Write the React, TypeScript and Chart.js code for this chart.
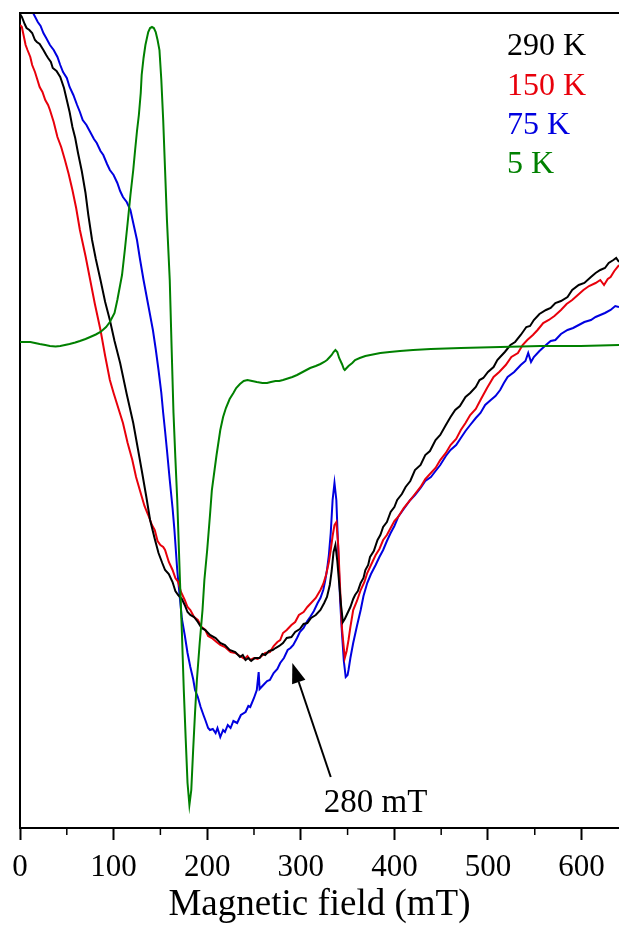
import React, { useEffect, useRef } from "react";
import { Chart, registerables } from "chart.js";

Chart.register(...registerables);

// ---------- data (field in mT, intensity in arbitrary units) ----------
const seriesLabels = ["290 K", "150 K", "75 K", "5 K"];
const seriesColors = ["#000000", "#e8000b", "#0000e0", "#008000"];
const xTicks = [0, 100, 200, 300, 400, 500, 600];
const minorTicks = [50, 150, 250, 350, 450, 550];
const annotationText = "280 mT";

const k290: [number, number][] = [
  [0,32.9],[2,32.6],[5,31.9],[7,31.5],[10,31.3],[13,31.0],[16,30.3],[18,30.1],[21,29.9],[25,29.3],[28,28.8],[30,28.5],[33,28.1],[35,27.5],[39,27.2],[43,26.6],[47,25.5],[50,24.3],[53,23.1],[56,21.6],[59,20.5],[62,19.0],[66,17.2],[70,15.0],[73,12.8],[77,10.3],[81,8.4],[86,6.3],[91,4.1],[96,2.3],[101,0.2],[107,-2.0],[114,-5.1],[121,-8.0],[126,-10.6],[130,-12.7],[135,-15.4],[139,-17.7],[144,-19.6],[148,-21.0],[152,-22.0],[155,-22.7],[159,-23.1],[163,-23.9],[166,-24.8],[169,-25.2],[173,-25.6],[176,-26.2],[179,-26.9],[182,-27.2],[186,-27.4],[190,-27.9],[194,-28.5],[198,-28.7],[203,-29.2],[209,-29.5],[214,-30.0],[219,-30.2],[224,-30.7],[230,-30.9],[235,-31.4],[238,-31.2],[241,-31.7],[244,-31.5],[247,-31.8],[251,-31.5],[256,-31.5],[259,-31.1],[262,-31.2],[266,-30.8],[270,-30.7],[273,-30.5],[277,-30.3],[281,-30.0],[285,-29.5],[290,-29.4],[294,-28.9],[299,-28.6],[303,-28.1],[307,-28.0],[311,-27.5],[316,-27.2],[321,-26.7],[325,-26.0],[328,-25.4],[331,-24.2],[333,-22.8],[335,-20.9],[337,-20.2],[339,-21.8],[341,-24.0],[343,-26.2],[345,-27.9],[347,-27.6],[349,-27.2],[353,-26.4],[356,-25.6],[358,-25.2],[361,-24.8],[364,-24.0],[367,-23.5],[369,-22.7],[372,-22.2],[374,-21.4],[378,-20.8],[382,-19.7],[385,-19.2],[388,-18.4],[392,-17.9],[396,-16.9],[400,-16.4],[403,-15.7],[408,-15.1],[412,-14.4],[417,-13.8],[422,-12.7],[428,-12.2],[433,-11.2],[438,-10.8],[444,-9.7],[449,-9.2],[455,-8.2],[460,-7.4],[465,-6.7],[470,-6.3],[476,-5.4],[481,-5.0],[487,-4.4],[491,-3.7],[495,-3.5],[500,-2.9],[506,-2.4],[510,-1.7],[513,-1.4],[518,-0.9],[524,-0.2],[529,0.1],[535,0.8],[541,1.6],[545,1.7],[549,2.3],[555,2.9],[562,3.3],[567,3.5],[572,4.0],[578,4.2],[585,4.6],[590,5.3],[597,5.8],[603,6.0],[610,6.6],[615,7.0],[620,7.3],[625,7.5],[629,8.0],[634,8.3],[637,8.5],[640,8.1]
];

const k150: [number, number][] = [
  [0,31.8],[2,31.6],[4,30.7],[6,29.8],[8,29.3],[11,28.6],[13,27.8],[16,27.1],[18,26.5],[21,25.6],[24,25.1],[27,24.3],[30,23.8],[32,23.3],[36,22.1],[40,20.6],[44,19.6],[48,18.3],[52,16.9],[56,15.3],[60,13.5],[64,11.3],[70,8.7],[75,6.3],[80,3.9],[86,1.3],[91,-1.3],[96,-3.7],[100,-5.0],[104,-6.2],[107,-7.1],[110,-8.0],[115,-10.0],[120,-11.7],[124,-13.4],[128,-14.7],[133,-16.3],[137,-17.2],[141,-18.2],[144,-18.7],[147,-19.8],[150,-20.2],[153,-20.4],[155,-20.7],[159,-21.9],[163,-22.7],[166,-23.5],[169,-23.9],[172,-24.9],[176,-25.7],[179,-26.4],[182,-26.7],[186,-27.4],[190,-27.7],[194,-28.4],[198,-28.7],[201,-29.3],[205,-29.5],[210,-29.9],[214,-30.2],[219,-30.4],[225,-30.9],[230,-31.0],[235,-31.3],[240,-31.6],[243,-31.3],[246,-31.7],[250,-31.5],[254,-31.6],[257,-31.4],[262,-31.0],[267,-30.9],[271,-30.3],[275,-29.9],[278,-29.7],[281,-29.0],[285,-28.7],[290,-28.2],[294,-27.9],[298,-27.2],[303,-26.9],[307,-26.4],[311,-26.0],[316,-25.5],[321,-24.7],[324,-24.1],[327,-23.2],[330,-21.9],[332,-20.7],[334,-19.3],[336,-18.2],[338,-17.9],[340,-20.2],[342,-24.5],[344,-28.5],[347,-31.5],[349,-30.8],[351,-29.7],[353,-28.4],[356,-26.7],[360,-25.8],[364,-24.7],[368,-23.9],[371,-23.0],[375,-22.2],[380,-21.2],[384,-20.6],[388,-19.7],[392,-19.2],[396,-18.5],[400,-17.8],[404,-17.4],[410,-16.5],[417,-15.7],[422,-15.1],[428,-14.4],[433,-13.6],[439,-13.0],[444,-12.5],[449,-11.7],[455,-11.0],[460,-10.2],[466,-9.6],[471,-8.7],[476,-8.0],[481,-7.2],[487,-6.6],[492,-5.7],[499,-4.5],[506,-3.4],[512,-2.9],[519,-2.2],[525,-1.4],[532,-1.0],[537,-0.2],[542,0.3],[548,0.8],[553,1.3],[559,2.0],[565,2.3],[571,2.7],[578,3.3],[584,3.9],[590,4.3],[596,4.8],[602,5.3],[608,5.7],[615,6.0],[620,6.3],[624,5.8],[628,6.4],[631,6.6],[635,7.2],[640,7.8]
];

const k75: [number, number][] = [
  [0,35.3],[7,34.2],[14,33.0],[19,32.1],[22,31.7],[25,31.0],[28,30.5],[32,29.8],[36,29.3],[40,28.6],[43,27.8],[46,27.1],[50,26.5],[53,25.6],[57,24.8],[61,23.8],[64,23.1],[67,22.3],[71,21.8],[75,21.1],[79,20.4],[82,20.0],[86,19.2],[89,18.8],[93,17.9],[96,17.3],[100,16.8],[104,16.0],[107,15.2],[110,14.6],[114,14.1],[118,13.3],[121,12.0],[125,10.3],[128,8.5],[132,6.3],[137,3.8],[142,1.3],[145,-0.6],[148,-2.7],[151,-5.0],[153,-7.0],[155,-8.8],[157,-10.7],[160,-13.7],[163,-16.5],[165,-18.7],[168,-22.7],[171,-25.7],[173,-27.6],[176,-29.2],[179,-31.0],[182,-32.4],[185,-33.6],[187,-34.7],[190,-35.4],[193,-36.4],[196,-37.2],[198,-37.7],[201,-38.5],[203,-38.7],[206,-38.6],[209,-39.0],[211,-38.5],[214,-39.4],[217,-38.7],[219,-38.9],[222,-38.2],[225,-38.5],[228,-37.8],[232,-38.0],[236,-37.2],[241,-36.9],[244,-36.3],[246,-36.4],[250,-35.5],[253,-34.7],[255,-32.9],[256,-34.6],[260,-34.2],[264,-33.8],[267,-33.7],[271,-33.0],[275,-32.6],[278,-32.0],[282,-31.5],[286,-30.7],[289,-30.5],[292,-30.2],[296,-29.5],[299,-28.9],[303,-28.5],[307,-27.8],[310,-27.4],[314,-26.8],[318,-26.0],[321,-25.5],[324,-24.7],[326,-23.8],[328,-22.7],[330,-21.2],[332,-19.0],[334,-15.7],[336,-14.0],[338,-15.7],[340,-20.7],[342,-25.7],[344,-29.0],[346,-31.8],[348,-33.4],[350,-33.2],[351,-32.7],[353,-31.5],[356,-30.0],[360,-28.3],[364,-26.7],[367,-25.3],[371,-24.0],[375,-23.1],[380,-22.2],[384,-21.4],[388,-20.7],[392,-19.8],[396,-19.0],[400,-18.3],[404,-17.4],[410,-16.6],[417,-15.7],[422,-15.2],[428,-14.5],[433,-13.8],[439,-13.4],[444,-12.8],[449,-12.2],[455,-11.3],[460,-10.7],[466,-10.2],[471,-9.5],[476,-8.8],[481,-8.2],[487,-7.5],[492,-7.0],[497,-6.2],[503,-5.7],[508,-5.3],[513,-4.7],[517,-4.0],[521,-3.4],[528,-2.9],[535,-2.2],[540,-1.8],[543,-1.0],[546,-1.9],[549,-1.4],[555,-0.8],[562,-0.2],[567,0.2],[572,0.3],[578,0.9],[585,1.3],[591,1.5],[597,1.8],[603,2.1],[610,2.3],[615,2.6],[620,2.8],[625,3.0],[631,3.3],[636,3.7],[640,3.6]
];

const k5: [number, number][] = [
  [0,0.1],[5,0.1],[11,0.1],[16,0.0],[21,-0.1],[27,-0.2],[32,-0.3],[38,-0.35],[43,-0.3],[48,-0.2],[53,-0.1],[59,0.05],[64,0.2],[70,0.4],[75,0.6],[81,0.85],[86,1.1],[92,1.6],[96,2.1],[101,3.0],[104,4.3],[107,5.8],[109,6.8],[112,9.3],[115,12.0],[118,14.8],[121,17.3],[123,19.3],[125,21.2],[127,22.8],[129,25.0],[130,26.8],[132,28.5],[134,29.8],[137,31.1],[139,31.5],[141,31.6],[143,31.5],[145,31.1],[147,30.3],[149,29.3],[151,26.3],[153,22.3],[155,17.3],[157,12.3],[160,6.3],[162,-0.5],[164,-7.0],[166,-11.5],[168,-15.7],[171,-24.0],[173,-29.0],[175,-34.7],[177,-39.5],[179,-44.0],[181,-46.2],[183,-44.7],[185,-40.7],[187,-37.0],[189,-33.7],[192,-30.0],[195,-26.7],[197,-23.7],[200,-20.7],[203,-17.2],[205,-14.7],[208,-12.6],[210,-11.2],[214,-8.7],[217,-7.4],[220,-6.5],[224,-5.6],[228,-5.0],[231,-4.5],[235,-4.1],[239,-3.8],[243,-3.7],[248,-3.8],[253,-3.9],[259,-4.0],[264,-4.0],[268,-3.9],[273,-3.8],[277,-3.8],[281,-3.7],[286,-3.55],[291,-3.4],[296,-3.2],[300,-3.0],[305,-2.75],[310,-2.5],[316,-2.3],[321,-2.1],[325,-1.9],[328,-1.7],[331,-1.4],[333,-1.2],[335,-0.9],[337,-0.7],[339,-0.9],[341,-1.5],[344,-2.1],[346,-2.6],[347,-2.7],[349,-2.5],[351,-2.3],[355,-2.0],[358,-1.7],[363,-1.5],[369,-1.3],[377,-1.15],[385,-1.0],[395,-0.9],[406,-0.8],[420,-0.7],[439,-0.6],[455,-0.55],[471,-0.5],[492,-0.45],[513,-0.4],[535,-0.35],[556,-0.3],[578,-0.3],[599,-0.3],[620,-0.25],[640,-0.2]
];

const seriesData = [k290, k150, k75, k5];

const W = 619;
const H = 926;
const SERIF = "'Liberation Serif', 'Times New Roman', serif";

export default function App() {
  const ref = useRef<HTMLCanvasElement>(null);

  useEffect(() => {
    const canvas = ref.current;
    if (!canvas) return;

    const deco = {
      id: "deco",
      afterDraw(chart: any) {
        const { ctx, chartArea: a, scales } = chart;
        const xs = scales.x;
        const ys = scales.y;
        ctx.save();
        ctx.strokeStyle = "#000";
        ctx.lineWidth = 2;
        // top frame line
        ctx.beginPath();
        ctx.moveTo(a.left - 1, a.top);
        ctx.lineTo(a.right, a.top);
        ctx.stroke();
        // minor ticks
        ctx.lineWidth = 1.5;
        minorTicks.forEach((v) => {
          const px = xs.getPixelForValue(v);
          ctx.beginPath();
          ctx.moveTo(px, a.bottom);
          ctx.lineTo(px, a.bottom + 7);
          ctx.stroke();
        });
        // legend text
        ctx.font = `32px ${SERIF}`;
        ctx.textBaseline = "middle";
        ctx.textAlign = "left";
        seriesLabels.forEach((l, i) => {
          ctx.fillStyle = seriesColors[i];
          ctx.fillText(l, 507, 47 + i * 39.3);
        });
        // arrow
        const tx = xs.getPixelForValue(332);
        const ty = ys.getPixelForValue(-43.4);
        const hx = xs.getPixelForValue(291);
        const hy = ys.getPixelForValue(-32.0);
        const ang = Math.atan2(hy - ty, hx - tx);
        const len = 20;
        const half = 7;
        const bx = hx - len * Math.cos(ang);
        const by = hy - len * Math.sin(ang);
        ctx.strokeStyle = "#000";
        ctx.fillStyle = "#000";
        ctx.lineWidth = 2;
        ctx.beginPath();
        ctx.moveTo(tx, ty);
        ctx.lineTo(bx, by);
        ctx.stroke();
        ctx.beginPath();
        ctx.moveTo(hx, hy);
        ctx.lineTo(bx + half * Math.sin(ang), by - half * Math.cos(ang));
        ctx.lineTo(bx - half * Math.sin(ang), by + half * Math.cos(ang));
        ctx.closePath();
        ctx.fill();
        // annotation label
        ctx.font = `33px ${SERIF}`;
        ctx.textAlign = "center";
        ctx.textBaseline = "middle";
        ctx.fillText(annotationText, xs.getPixelForValue(380), ys.getPixelForValue(-46.0));
        ctx.restore();
      },
    };

    const order = [3, 0, 1, 2];
    const chart = new Chart(canvas, {
      type: "line",
      data: {
        datasets: order.map((i) => ({
          label: seriesLabels[i],
          data: seriesData[i].map(([x, y]) => ({ x, y })),
          borderColor: seriesColors[i],
          backgroundColor: seriesColors[i],
          borderWidth: 2,
          pointRadius: 0,
          tension: 0,
          fill: false,
        })),
      },
      options: {
        responsive: false,
        animation: false,
        devicePixelRatio: 1,
        layout: { padding: { top: 13, left: 0, right: 0, bottom: 0 } },
        plugins: {
          legend: { display: false },
          tooltip: { enabled: false },
        },
        events: [],
        scales: {
          x: {
            type: "linear",
            position: "bottom",
            min: 0,
            max: 640,
            afterBuildTicks: (s: any) => {
              s.ticks = xTicks.map((v) => ({ value: v }));
            },
            afterFit: (s: any) => {
              s.height = 98;
            },
            ticks: {
              autoSkip: false,
              maxRotation: 0,
              color: "#000",
              padding: 9,
              font: { family: SERIF, size: 31 },
            },
            grid: {
              display: true,
              drawOnChartArea: false,
              drawTicks: true,
              tickLength: 12,
              tickWidth: 2,
              tickColor: "#000",
              color: "#000",
            },
            border: { display: true, color: "#000", width: 2 },
            title: {
              display: true,
              text: "Magnetic field (mT)",
              color: "#000",
              font: { family: SERIF, size: 37, lineHeight: 1.1 },
              padding: { top: 0, bottom: 0 },
            },
          },
          y: {
            type: "linear",
            min: -48.5,
            max: 33,
            afterFit: (s: any) => {
              s.width = 20;
            },
            ticks: { display: false },
            grid: { display: false, drawTicks: false },
            border: { display: true, color: "#000", width: 2 },
          },
        },
      },
      plugins: [deco],
    } as any);

    return () => chart.destroy();
  }, []);

  return (
    <div style={{ position: "fixed", left: 0, top: 0, width: W, height: H, background: "#fff" }}>
      <canvas ref={ref} width={W} height={H} style={{ display: "block", width: W, height: H }} />
    </div>
  );
}
